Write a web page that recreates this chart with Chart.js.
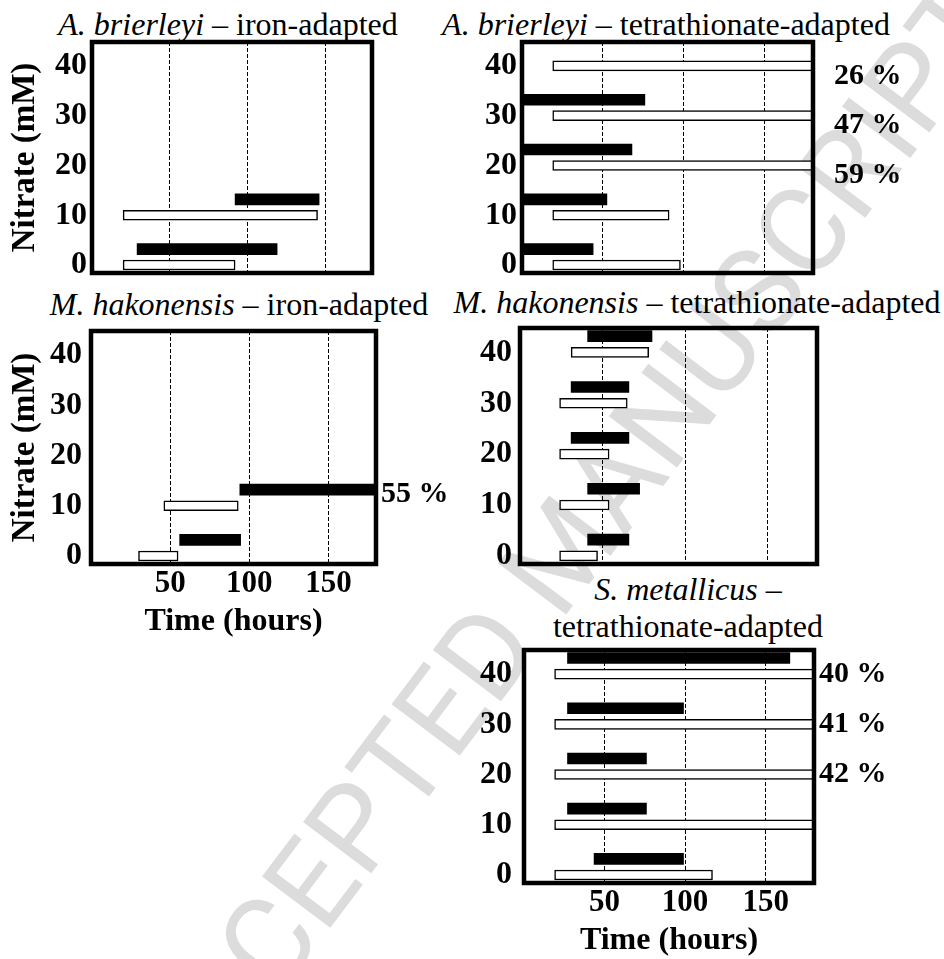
<!DOCTYPE html>
<html>
<head>
<meta charset="utf-8">
<title>Nitrate tolerance - lag and growth phases</title>
<script src="https://cdn.jsdelivr.net/npm/chart.js@4.4.1/dist/chart.umd.min.js"></script>
<style>
  html, body { margin: 0; padding: 0; background: #fff; }
  #page { position: relative; width: 944px; height: 959px; overflow: hidden;
          font-family: "Liberation Serif", "Times New Roman", serif; color: #000; }
  .ttl { position: absolute; font-size: 32px; line-height: 32px; white-space: nowrap;
         transform: translateX(-50%); }
  .ttl i { font-style: italic; }
  .wm { position: absolute; left: 565px; top: 548px; white-space: nowrap;
        font-family: Roboto, "Liberation Sans", sans-serif; font-weight: 400;
        font-size: 120px; line-height: 120px; color: #dcdcdc;
        transform: translate(-50%, -50%) rotate(-53deg); }
  canvas { position: absolute; }
</style>
</head>
<body>
<div id="page">
  <div class="wm" aria-hidden="true">ACCEPTED MANUSCRIPT</div>

  <div class="ttl" style="left:228px;top:8px"><i>A. brierleyi</i> – iron-adapted</div>
  <div class="ttl" style="left:666px;top:8px"><i>A. brierleyi</i> – tetrathionate-adapted</div>
  <div class="ttl" style="left:239px;top:288px"><i>M. hakonensis</i> – iron-adapted</div>
  <div class="ttl" style="left:697px;top:286px"><i>M. hakonensis</i> – tetrathionate-adapted</div>
  <div class="ttl" style="left:688px;top:573px"><i>S. metallicus</i> –</div>
  <div class="ttl" style="left:688px;top:610px">tetrathionate-adapted</div>

  <canvas id="abIron"></canvas>
  <canvas id="abTetra"></canvas>
  <canvas id="mhIron"></canvas>
  <canvas id="mhTetra"></canvas>
  <canvas id="smTetra"></canvas>
</div>

<script>
// ---- axis ticks ----
const nitrateTicks = [0, 10, 20, 30, 40];   // mM
const timeGrid = [50, 100, 150];            // hours

// ---- A. brierleyi, iron-adapted ----
const abIronOpenLevels = [0, 10];
const abIronOpen = [[20, 92], [20, 145]];
const abIronSolidLevels = [0, 10];
const abIronSolid = [[29, 119], [92, 146]];

// ---- A. brierleyi, tetrathionate-adapted ----
const abTetraOpenLevels = [0, 10, 20, 30, 40];
const abTetraOpen = [[19, 98], [19, 91], [19, 180], [19, 180], [19, 180]];
const abTetraSolidLevels = [0, 10, 20, 30];
const abTetraSolid = [[0, 44], [0, 52.5], [0, 68], [0, 76]];
const abTetraPctLevels = [20, 30, 40];
const abTetraPct = ['59 %', '47 %', '26 %'];

// ---- M. hakonensis, iron-adapted ----
const mhIronOpenLevels = [0, 10];
const mhIronOpen = [[30, 55], [46, 93]];
const mhIronSolidLevels = [0, 10];
const mhIronSolid = [[56, 94.5], [94, 180]];
const mhIronPctLevels = [10];
const mhIronPct = ['55 %'];

// ---- M. hakonensis, tetrathionate-adapted ----
const mhTetraOpenLevels = [0, 10, 20, 30, 40];
const mhTetraOpen = [[24, 47], [24, 54], [24, 54], [24, 65], [31, 78]];
const mhTetraSolidLevels = [0, 10, 20, 30, 40];
const mhTetraSolid = [[41, 66], [41, 72.5], [31, 66], [31, 66], [41, 80]];

// ---- S. metallicus, tetrathionate-adapted ----
const smOpenLevels = [0, 10, 20, 30, 40];
const smOpen = [[19, 117], [19, 180], [19, 180], [19, 180], [19, 180]];
const smSolidLevels = [0, 10, 20, 30, 40];
const smSolid = [[43.5, 99], [27, 76], [27, 76], [27, 99], [27, 165]];
const smPctLevels = [20, 30, 40];
const smPct = ['42 %', '41 %', '40 %'];


const SOLID_SHIFT = 3.2;     // black bar sits just above its open bar
const SERIF = "'Liberation Serif', 'Times New Roman', serif";

// thick box round the plot area
const framePlugin = {
  id: 'frame',
  afterDraw(chart) {
    const { ctx, chartArea: a } = chart;
    ctx.save();
    ctx.lineWidth = 4.5;
    ctx.strokeStyle = '#000';
    ctx.strokeRect(a.left, a.top, a.right - a.left, a.bottom - a.top);
    ctx.restore();
  }
};

// percentage labels right of the box
const pctPlugin = {
  id: 'pct',
  afterDraw(chart, args, opts) {
    if (!opts.texts || !opts.texts.length) return;
    const { ctx, chartArea: a, scales: { y } } = chart;
    ctx.save();
    ctx.font = 'bold 30px ' + SERIF;
    ctx.fillStyle = '#000';
    ctx.textAlign = 'left';
    ctx.textBaseline = 'middle';
    opts.texts.forEach((t, i) => {
      ctx.fillText(t, a.right + opts.dx, y.getPixelForValue(opts.levels[i]) + opts.dy);
    });
    ctx.restore();
  }
};

function zeroPad(s) {
  s.paddingTop = 0; s.paddingBottom = 0; s.paddingLeft = 0; s.paddingRight = 0;
}

function makePanel(p) {
  const cv = document.getElementById(p.id);
  const left = p.frame.l - p.yw, top = p.frame.t - 6;
  const width = p.frame.r + p.right - left, height = p.frame.b + p.xh - top;
  cv.width = width; cv.height = height;
  cv.style.left = left + 'px'; cv.style.top = top + 'px';

  return new Chart(cv, {
    type: 'bar',
    data: {
      datasets: [
        {
          data: p.open.map((r, i) => ({ x: r, y: p.openLevels[i] })),
          backgroundColor: '#fff', borderColor: '#000', borderWidth: 1.5,
          borderSkipped: false, barThickness: 10, grouped: false
        },
        {
          data: p.solid.map((r, i) => ({ x: r, y: p.solidLevels[i] + SOLID_SHIFT })),
          backgroundColor: '#000', borderWidth: 0,
          borderSkipped: false, barThickness: 11, grouped: false
        }
      ]
    },
    options: {
      indexAxis: 'y',
      responsive: false,
      animation: false,
      events: [],
      layout: { padding: { top: 6, right: p.right, left: 0, bottom: 0 } },
      plugins: {
        legend: { display: false },
        tooltip: { enabled: false },
        pct: { texts: p.pct || [], levels: p.pctLevels || [], dx: p.pctDx || 0, dy: p.pctDy || 0 }
      },
      scales: {
        x: {
          type: 'linear', min: 0, max: 180, offset: false,
          afterBuildTicks: s => { s.ticks = timeGrid.map(v => ({ value: v })); },
          afterFit: s => { s.height = p.xh; zeroPad(s); },
          grid: { color: '#000', lineWidth: 1, drawTicks: false, offset: false },
          border: { display: false, dash: [4, 2] },
          ticks: { display: !!p.showX, color: '#000', padding: 1,
                   font: { family: SERIF, size: 31, weight: 'bold' } },
          title: { display: !!p.showX, text: 'Time (hours)', color: '#000',
                   padding: { top: 0, bottom: p.xTitlePad || 0 },
                   font: { family: SERIF, size: 32, weight: 'bold' } }
        },
        y: {
          type: 'linear', min: -1.6, max: 44.8, offset: false,
          afterBuildTicks: s => { s.ticks = nitrateTicks.map(v => ({ value: v })); },
          afterFit: s => { s.width = p.yw; zeroPad(s); },
          grid: { display: false, drawTicks: false, offset: false },
          border: { display: false },
          ticks: { color: '#000', padding: p.tickPad,
                   font: { family: SERIF, size: 32, weight: 'bold' } },
          title: { display: !!p.yTitle, text: 'Nitrate (mM)', color: '#000',
                   padding: { top: 6, bottom: 0 },
                   font: { family: SERIF, size: 33, weight: 'bold' } }
        }
      }
    },
    plugins: [framePlugin, pctPlugin]
  });
}

makePanel({
  id: 'abIron', frame: { l: 92, t: 42, r: 372, b: 273 }, yw: 92, right: 48, xh: 12,
  tickPad: 5, yTitle: true,
  openLevels: abIronOpenLevels, open: abIronOpen,
  solidLevels: abIronSolidLevels, solid: abIronSolid
});

makePanel({
  id: 'abTetra', frame: { l: 522, t: 42, r: 813, b: 273 }, yw: 102, right: 131, xh: 12,
  tickPad: 5,
  openLevels: abTetraOpenLevels, open: abTetraOpen,
  solidLevels: abTetraSolidLevels, solid: abTetraSolid,
  pct: abTetraPct, pctLevels: abTetraPctLevels, pctDx: 21, pctDy: 10
});

makePanel({
  id: 'mhIron', frame: { l: 91, t: 331, r: 376, b: 564 }, yw: 91, right: 84, xh: 81,
  tickPad: 9, yTitle: true, showX: true, xTitlePad: 4,
  openLevels: mhIronOpenLevels, open: mhIronOpen,
  solidLevels: mhIronSolidLevels, solid: mhIronSolid,
  pct: mhIronPct, pctLevels: mhIronPctLevels, pctDx: 5, pctDy: -12
});

makePanel({
  id: 'mhTetra', frame: { l: 520, t: 328, r: 817, b: 564 }, yw: 80, right: 127, xh: 13,
  tickPad: 8,
  openLevels: mhTetraOpenLevels, open: mhTetraOpen,
  solidLevels: mhTetraSolidLevels, solid: mhTetraSolid
});

makePanel({
  id: 'smTetra', frame: { l: 524, t: 650, r: 814, b: 883 }, yw: 84, right: 130, xh: 77,
  tickPad: 12, showX: true, xTitlePad: 0,
  openLevels: smOpenLevels, open: smOpen,
  solidLevels: smSolidLevels, solid: smSolid,
  pct: smPct, pctLevels: smPctLevels, pctDx: 5, pctDy: 0
});
</script>
</body>
</html>
